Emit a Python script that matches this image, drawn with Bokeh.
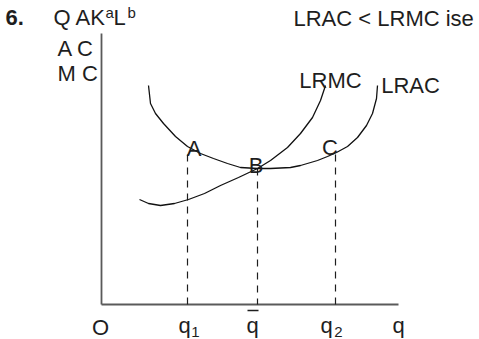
from bokeh.plotting import figure
from bokeh.models import Range1d
from bokeh.core.properties import value
from bokeh.embed import file_html
from bokeh.resources import INLINE

# ---- diagram data (origin O at 0,0) ----
lrac_q = [47, 49, 54, 62, 74, 86, 99, 112, 126, 139, 156, 169, 189, 199, 216, 226, 235, 246, 256, 265, 271, 275, 276]
lrac_c = [219, 201, 191, 181, 168, 158, 151, 146, 141, 137, 136, 136, 137, 139, 144, 148, 152, 158, 167, 179, 191, 206, 219]

lrmc_q = [38, 47, 59, 73, 87, 103, 119, 137, 156, 169, 186, 199, 211, 219, 224]
lrmc_c = [105, 101, 99, 101, 105, 111, 119, 127, 136, 144, 157, 171, 187, 204, 219]

point_labels = ["A", "B", "C"]
point_q = [86, 156, 234]
point_cost = [150, 136, 150]

q_tick_main = ["q", "q", "q"]
q_tick_sub = ["1", "", "2"]
axis_q_max = 297
axis_c_max = 271

FONT = value("Liberation Sans")
INK = "#1e1e1e"

p = figure(width=479, height=339, x_range=Range1d(-101, 378), y_range=Range1d(-35, 304),
           output_backend="svg", toolbar_location=None, min_border=0,
           x_axis_location=None, y_axis_location=None, outline_line_color=None)
p.grid.visible = False
p.background_fill_color = "white"
p.border_fill_color = "white"

# axes
p.segment(x0=[0, 0], y0=[0, 0], x1=[0, axis_q_max], y1=[axis_c_max, 0],
          line_color="#5a5a5a", line_width=1.8)

# dashed drop lines
p.segment(x0=point_q, y0=point_cost, x1=point_q, y1=[0] * len(point_q),
          line_color=INK, line_width=1.2, line_dash="7 6")

# curves
p.line(lrac_q, lrac_c, line_color="#111111", line_width=1.3)
p.line(lrmc_q, lrmc_c, line_color="#111111", line_width=1.3)

def txt(x, y, s, size="22px", align="left", baseline="alphabetic", style="normal"):
    p.text(x=x, y=y, text=s, text_font=FONT, text_font_size=size, text_align=align,
           text_baseline=baseline, text_color=INK, text_font_style=style)

# header
txt([-96], [287], ["6."], style="bold")
txt([-48], [287], ["Q AK"])
txt([4], [292], ["a"], size="15px")
txt([12], [287], ["L"])
txt([26], [292], ["b"], size="15px")
txt([192], [286], ["LRAC < LRMC ise"])

# axis label
txt([-44, -44], [256, 231], ["A C", "M C"])

# curve labels
txt([229, 309], [224, 219], ["LRMC", "LRAC"], align="center")

# point labels
label_dx = [6.5, -1.5, -5.5]
label_dy = [6, 3, 7]
txt([q + dx for q, dx in zip(point_q, label_dx)],
    [c + dy for c, dy in zip(point_cost, label_dy)], point_labels, align="center")

# bottom labels
txt([-1], [-23], ["O"], align="center")
main_dx = [-3, -5, -9]
txt([q + dx for q, dx in zip(point_q, main_dx)], [-21] * 3, q_tick_main, align="center")
sub_dx = [8, 0, 3]
txt([q + dx for q, dx, s in zip(point_q, sub_dx, q_tick_sub) if s],
    [-27] * 2, [s for s in q_tick_sub if s], size="15px", align="center", baseline="alphabetic")
# bar over q-bar
p.segment(x0=[point_q[1] - 10], y0=[-6], x1=[point_q[1] + 1], y1=[-6],
          line_color=INK, line_width=1.3)
txt([axis_q_max], [-21], ["q"], align="center")

open("out.html", "w").write(file_html(p, INLINE))
